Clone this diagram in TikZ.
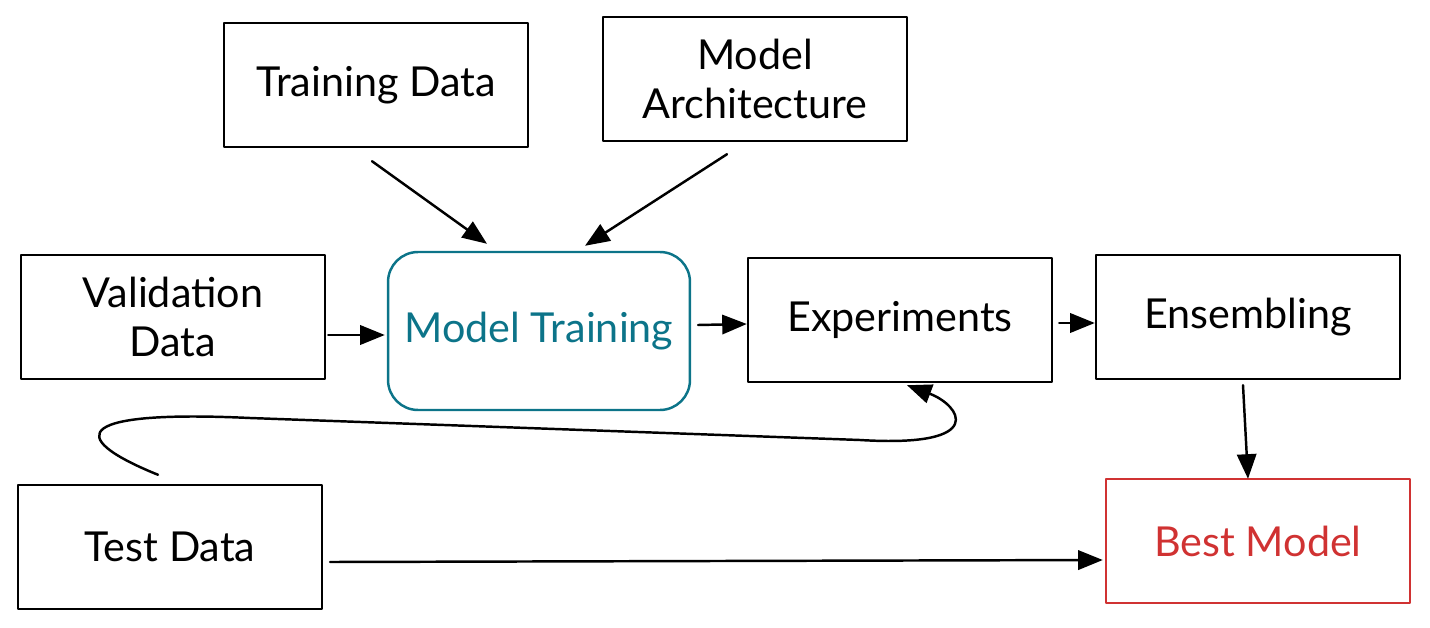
\documentclass[tikz,border=0pt]{standalone}
\usepackage{fontspec}
\setmainfont{Lato}
\usetikzlibrary{arrows.meta,calc}

\definecolor{tealmt}{HTML}{0C7489}
\definecolor{redbest}{HTML}{D03232}

\begin{document}
\begin{tikzpicture}[x=0.02cm,y=-0.02cm,>={Triangle[length=14pt,width=11pt]},line cap=round,line join=round,
			box/.style={draw,line width=1.4pt,minimum width=6.08cm,minimum height=2.48cm,align=center,font=\fontsize{23.5}{28}\selectfont},
			flow/.style={line width=1.4pt,->}]
			\useasboundingbox (0,0) rectangle (1430,628);
			\node[box] (train) at (376,85) {Training Data};
			\node[box] (arch) at (755,79) {Model\\Architecture};
			\node[box] (valid) at (173,317) {Validation\\Data};
			\node[box,draw=tealmt,text=tealmt,rounded corners=0.6cm,minimum width=6.04cm,minimum height=3.16cm] (mt) at (539,331) {Model Training};
			\node[box] (exper) at (900,320) {Experiments};
			\node[box] (ens) at (1248,317) {Ensembling};
			\node[box] (test) at (170,547) {Test Data};
			\node[box,draw=redbest,text=redbest] (best) at (1258,541) {Best Model};
			%\draw[flow] (train) -- (mt);
			\draw[flow] ($(train.south)+(-4,13)$) -- ($(mt.north)+(-52,-7)$);
			\draw[flow] ($(arch.south)+(-28,12)$) -- ($(mt.north)+(46,-5)$);
			\draw[flow] ($(valid.east)+(2,18)$) -- ($(mt.west)+(-2,4)$);
			\draw[flow] ($(mt.east)+(7,-6)$) -- ($(exper.west)+(0,4)$);
			\draw[flow] ($(exper.east)+(6,3)$) -- ($(ens.west)+(0,6)$);
			\draw[flow] ($(ens.south)+(-5,5)$) -- ($(best.north)+(-10,1)$);
			\draw[flow] ($(test.east)+(7,15)$) -- ($(best.west)+(-2,19)$);
			% test data loops back to the experiments
			\draw[flow] ($(test.north)+(-12,-9)$) .. controls (60,435) and (80,410) .. (250,418)
			  -- (860,440) .. controls (990,448) and (960,405) .. ($(exper.south)+(7,2)$);
		\end{tikzpicture}
\end{document}
